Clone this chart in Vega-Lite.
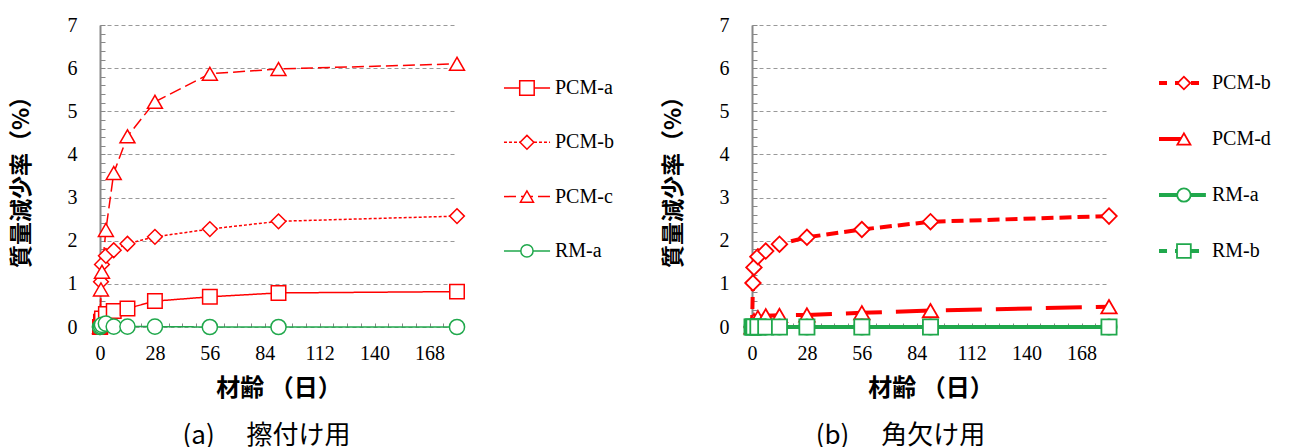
{
  "$schema": "https://vega.github.io/schema/vega-lite/v6.json",
  "padding": {"left": 10, "top": 15, "right": 0, "bottom": 4},
  "bounds": "flush",
  "spacing": 10,
  "config": {"view": {"stroke": null}, "axis": {"labelFont": "Liberation Serif"}},
  "resolve": {"scale": {"stroke": "independent", "shape": "independent", "strokeDash": "independent", "strokeWidth": "independent", "size": "independent"}},
  "hconcat": [
    {
      "width": 357,
      "height": 302,
      "title": {"text": "(a)　 擦付け用", "orient": "bottom", "frame": "group", "anchor": "middle", "offset": 23, "dx": -12, "font": "Noto Sans CJK JP", "fontSize": 26, "fontWeight": "normal", "color": "#000"},
      "data": {"values": [
        {"s": "PCM-a", "d": 0, "v": 0}, {"s": "PCM-a", "d": 0.5, "v": 0.12}, {"s": "PCM-a", "d": 1, "v": 0.2}, {"s": "PCM-a", "d": 3, "v": 0.3}, {"s": "PCM-a", "d": 7, "v": 0.37}, {"s": "PCM-a", "d": 14, "v": 0.43}, {"s": "PCM-a", "d": 28, "v": 0.6}, {"s": "PCM-a", "d": 56, "v": 0.7}, {"s": "PCM-a", "d": 91, "v": 0.79}, {"s": "PCM-a", "d": 182, "v": 0.82},
        {"s": "PCM-b", "d": 0, "v": 0}, {"s": "PCM-b", "d": 0.5, "v": 1.05}, {"s": "PCM-b", "d": 1, "v": 1.45}, {"s": "PCM-b", "d": 3, "v": 1.65}, {"s": "PCM-b", "d": 7, "v": 1.78}, {"s": "PCM-b", "d": 14, "v": 1.93}, {"s": "PCM-b", "d": 28, "v": 2.09}, {"s": "PCM-b", "d": 56, "v": 2.27}, {"s": "PCM-b", "d": 91, "v": 2.45}, {"s": "PCM-b", "d": 182, "v": 2.57},
        {"s": "PCM-c", "d": 0, "v": 0}, {"s": "PCM-c", "d": 0.5, "v": 0.87}, {"s": "PCM-c", "d": 1, "v": 1.28}, {"s": "PCM-c", "d": 3, "v": 2.25}, {"s": "PCM-c", "d": 7, "v": 3.57}, {"s": "PCM-c", "d": 14, "v": 4.42}, {"s": "PCM-c", "d": 28, "v": 5.22}, {"s": "PCM-c", "d": 56, "v": 5.87}, {"s": "PCM-c", "d": 91, "v": 5.98}, {"s": "PCM-c", "d": 182, "v": 6.1},
        {"s": "RM-a", "d": 0, "v": 0}, {"s": "RM-a", "d": 0.5, "v": 0.02}, {"s": "RM-a", "d": 1, "v": 0.05}, {"s": "RM-a", "d": 3, "v": 0.08}, {"s": "RM-a", "d": 7, "v": 0.01}, {"s": "RM-a", "d": 14, "v": 0.01}, {"s": "RM-a", "d": 28, "v": 0.01}, {"s": "RM-a", "d": 56, "v": 0}, {"s": "RM-a", "d": 91, "v": 0}, {"s": "RM-a", "d": 182, "v": 0}
      ]},
      "layer": [
        {
          "mark": {"type": "line", "strokeCap": "butt"},
          "encoding": {
            "x": {"field": "d", "type": "quantitative", "scale": {"domain": [0, 182], "nice": false},
              "axis": {"values": [0, 28, 56, 84, 112, 140, 168], "title": "材齢 （日）", "grid": false, "domain": false, "ticks": false, "labelFlush": false, "labelPadding": 16, "labelFont": "Liberation Serif", "labelFontSize": 20, "labelColor": "#000", "titleFont": "Noto Sans CJK JP", "titleFontSize": 24, "titleFontWeight": "bold", "titleColor": "#000", "titlePadding": 13}},
            "y": {"field": "v", "type": "quantitative", "scale": {"domain": [0, 7], "nice": false},
              "axis": {"values": [0, 1, 2, 3, 4, 5, 6, 7], "title": "質量減少率（%）", "grid": true, "gridDash": [4, 3], "gridColor": "#999", "gridWidth": 1.2, "domain": true, "domainColor": "#888", "domainWidth": 2, "ticks": false, "labelPadding": 23, "labelFont": "Liberation Serif", "labelFontSize": 20, "labelColor": "#000", "titleFont": "Noto Sans CJK JP", "titleFontSize": 23, "titleFontWeight": "bold", "titleColor": "#000", "titlePadding": 34}},
            "stroke": {"field": "s", "type": "nominal", "scale": {"domain": ["PCM-a", "PCM-b", "PCM-c", "RM-a"], "range": ["#ff0000", "#ff0000", "#ff0000", "#20a84c"]}, "legend": null},
            "strokeDash": {"field": "s", "type": "nominal", "scale": {"domain": ["PCM-a", "PCM-b", "PCM-c", "RM-a"], "range": [[1, 0], [3, 2], [12, 5], [1, 0]]}, "legend": null},
            "strokeWidth": {"field": "s", "type": "nominal", "scale": {"domain": ["PCM-a", "PCM-b", "PCM-c", "RM-a"], "range": [1.5, 1.5, 1.5, 2.5]}, "legend": null}
          }
        },
        {
          "mark": {"type": "point", "fill": "#fff", "filled": true, "opacity": 1, "strokeWidth": 1.5},
          "encoding": {
            "x": {"field": "d", "type": "quantitative", "axis": {"orient": "bottom", "values": [0, 7, 14, 21, 28, 35, 42, 49, 56, 63, 70, 77, 84, 91, 98, 105, 112, 119, 126, 133, 140, 147, 154, 161, 168, 175, 182], "labels": false, "grid": false, "domain": false, "ticks": true, "tickSize": -4, "tickColor": "#888", "title": null}},
            "y": {"field": "v", "type": "quantitative", "axis": {"orient": "left", "values": [0, 0.2, 0.4, 0.6, 0.8, 1, 1.2, 1.4, 1.6, 1.8, 2, 2.2, 2.4, 2.6, 2.8, 3, 3.2, 3.4, 3.6, 3.8, 4, 4.2, 4.4, 4.6, 4.8, 5, 5.2, 5.4, 5.6, 5.8, 6, 6.2, 6.4, 6.6, 6.8, 7], "labels": false, "grid": false, "domain": false, "ticks": true, "tickSize": -5, "tickColor": "#888", "title": null}},
            "stroke": {"field": "s", "type": "nominal", "scale": {"domain": ["PCM-a", "PCM-b", "PCM-c", "RM-a"], "range": ["#ff0000", "#ff0000", "#ff0000", "#20a84c"]}, "legend": null},
            "shape": {"field": "s", "type": "nominal", "scale": {"domain": ["PCM-a", "PCM-b", "PCM-c", "RM-a"], "range": ["square", "diamond", "triangle-up", "circle"]}, "legend": null},
            "size": {"field": "s", "type": "nominal", "scale": {"domain": ["PCM-a", "PCM-b", "PCM-c", "RM-a"], "range": [210, 230, 220, 220]}, "legend": null}
          }
        }
      ],
      "resolve": {"axis": {"x": "independent", "y": "independent"}}
    },
    {
      "width": 275,
      "height": 302,
      "data": {"values": [{"s": "PCM-a", "o": 1}, {"s": "PCM-b", "o": 2}, {"s": "PCM-c", "o": 3}, {"s": "RM-a", "o": 4}]},
      "encoding": {"y": {"field": "o", "type": "quantitative", "scale": {"domain": [-0.16, 5.402], "reverse": true, "nice": false, "zero": false}, "axis": null}},
      "layer": [
        {
          "mark": {"type": "rule", "strokeCap": "butt"},
          "encoding": {
            "x": {"datum": 1.345, "type": "quantitative", "scale": {"domain": [0, 10], "nice": false}, "axis": null},
            "x2": {"datum": 3.02},
            "stroke": {"field": "s", "type": "nominal", "scale": {"domain": ["PCM-a", "PCM-b", "PCM-c", "RM-a"], "range": ["#ff0000", "#ff0000", "#ff0000", "#20a84c"]}, "legend": null},
            "strokeDash": {"field": "s", "type": "nominal", "scale": {"domain": ["PCM-a", "PCM-b", "PCM-c", "RM-a"], "range": [[1, 0], [3, 2], [12, 5], [1, 0]]}, "legend": null},
            "strokeWidth": {"field": "s", "type": "nominal", "scale": {"domain": ["PCM-a", "PCM-b", "PCM-c", "RM-a"], "range": [1.5, 1.5, 1.5, 2.5]}, "legend": null}
          }
        },
        {
          "mark": {"type": "point", "fill": "#fff", "filled": true, "opacity": 1, "strokeWidth": 1.5},
          "encoding": {
            "x": {"datum": 2.18, "type": "quantitative"},
            "stroke": {"field": "s", "type": "nominal", "scale": {"domain": ["PCM-a", "PCM-b", "PCM-c", "RM-a"], "range": ["#ff0000", "#ff0000", "#ff0000", "#20a84c"]}, "legend": null},
            "shape": {"field": "s", "type": "nominal", "scale": {"domain": ["PCM-a", "PCM-b", "PCM-c", "RM-a"], "range": ["square", "diamond", "triangle-up", "circle"]}, "legend": null},
            "size": {"field": "s", "type": "nominal", "scale": {"domain": ["PCM-a", "PCM-b", "PCM-c", "RM-a"], "range": [210, 150, 170, 200]}, "legend": null}
          }
        },
        {
          "mark": {"type": "text", "align": "left", "baseline": "middle", "font": "Liberation Serif", "fontSize": 20, "color": "#000"},
          "encoding": {"x": {"datum": 3.2, "type": "quantitative"}, "text": {"field": "s"}}
        }
      ]
    },
    {
      "width": 357,
      "height": 302,
      "title": {"text": "(b)　 角欠け用", "orient": "bottom", "frame": "group", "anchor": "middle", "offset": 23, "dx": -30, "font": "Noto Sans CJK JP", "fontSize": 26, "fontWeight": "normal", "color": "#000"},
      "data": {"values": [
        {"s": "PCM-b", "d": 0, "v": 0}, {"s": "PCM-b", "d": 0.5, "v": 1.02}, {"s": "PCM-b", "d": 1, "v": 1.38}, {"s": "PCM-b", "d": 3, "v": 1.63}, {"s": "PCM-b", "d": 7, "v": 1.76}, {"s": "PCM-b", "d": 14, "v": 1.92}, {"s": "PCM-b", "d": 28, "v": 2.08}, {"s": "PCM-b", "d": 56, "v": 2.26}, {"s": "PCM-b", "d": 91, "v": 2.44}, {"s": "PCM-b", "d": 182, "v": 2.57},
        {"s": "PCM-d", "d": 0, "v": 0}, {"s": "PCM-d", "d": 0.5, "v": 0.1}, {"s": "PCM-d", "d": 1, "v": 0.15}, {"s": "PCM-d", "d": 3, "v": 0.22}, {"s": "PCM-d", "d": 7, "v": 0.26}, {"s": "PCM-d", "d": 14, "v": 0.27}, {"s": "PCM-d", "d": 28, "v": 0.28}, {"s": "PCM-d", "d": 56, "v": 0.33}, {"s": "PCM-d", "d": 91, "v": 0.38}, {"s": "PCM-d", "d": 182, "v": 0.47},
        {"s": "RM-a", "d": 0, "v": 0}, {"s": "RM-a", "d": 0.5, "v": 0}, {"s": "RM-a", "d": 1, "v": 0}, {"s": "RM-a", "d": 3, "v": 0}, {"s": "RM-a", "d": 7, "v": 0}, {"s": "RM-a", "d": 14, "v": 0}, {"s": "RM-a", "d": 28, "v": 0}, {"s": "RM-a", "d": 56, "v": 0}, {"s": "RM-a", "d": 91, "v": 0}, {"s": "RM-a", "d": 182, "v": 0},
        {"s": "RM-b", "d": 0, "v": 0}, {"s": "RM-b", "d": 0.5, "v": 0}, {"s": "RM-b", "d": 1, "v": 0}, {"s": "RM-b", "d": 3, "v": 0}, {"s": "RM-b", "d": 7, "v": 0}, {"s": "RM-b", "d": 14, "v": 0}, {"s": "RM-b", "d": 28, "v": 0}, {"s": "RM-b", "d": 56, "v": 0}, {"s": "RM-b", "d": 91, "v": 0}, {"s": "RM-b", "d": 182, "v": 0}
      ]},
      "layer": [
        {
          "mark": {"type": "line", "strokeCap": "butt"},
          "encoding": {
            "x": {"field": "d", "type": "quantitative", "scale": {"domain": [0, 182], "nice": false},
              "axis": {"values": [0, 28, 56, 84, 112, 140, 168], "title": "材齢 （日）", "grid": false, "domain": false, "ticks": false, "labelFlush": false, "labelPadding": 16, "labelFont": "Liberation Serif", "labelFontSize": 20, "labelColor": "#000", "titleFont": "Noto Sans CJK JP", "titleFontSize": 24, "titleFontWeight": "bold", "titleColor": "#000", "titlePadding": 13}},
            "y": {"field": "v", "type": "quantitative", "scale": {"domain": [0, 7], "nice": false},
              "axis": {"values": [0, 1, 2, 3, 4, 5, 6, 7], "title": "質量減少率（%）", "grid": true, "gridDash": [4, 3], "gridColor": "#999", "gridWidth": 1.2, "domain": true, "domainColor": "#888", "domainWidth": 2, "ticks": false, "labelPadding": 23, "labelFont": "Liberation Serif", "labelFontSize": 20, "labelColor": "#000", "titleFont": "Noto Sans CJK JP", "titleFontSize": 23, "titleFontWeight": "bold", "titleColor": "#000", "titlePadding": 34}},
            "stroke": {"field": "s", "type": "nominal", "scale": {"domain": ["PCM-b", "PCM-d", "RM-a", "RM-b"], "range": ["#ff0000", "#ff0000", "#20a84c", "#20a84c"]}, "legend": null},
            "strokeDash": {"field": "s", "type": "nominal", "scale": {"domain": ["PCM-b", "PCM-d", "RM-a", "RM-b"], "range": [[12, 6], [36, 14], [1, 0], [8, 5]]}, "legend": null},
            "strokeWidth": {"field": "s", "type": "nominal", "scale": {"domain": ["PCM-b", "PCM-d", "RM-a", "RM-b"], "range": [4, 4, 3, 4]}, "legend": null}
          }
        },
        {
          "mark": {"type": "point", "fill": "#fff", "filled": true, "opacity": 1, "strokeWidth": 1.8},
          "encoding": {
            "x": {"field": "d", "type": "quantitative", "axis": {"orient": "bottom", "values": [0, 7, 14, 21, 28, 35, 42, 49, 56, 63, 70, 77, 84, 91, 98, 105, 112, 119, 126, 133, 140, 147, 154, 161, 168, 175, 182], "labels": false, "grid": false, "domain": false, "ticks": true, "tickSize": -4, "tickColor": "#888", "title": null}},
            "y": {"field": "v", "type": "quantitative", "axis": {"orient": "left", "values": [0, 0.2, 0.4, 0.6, 0.8, 1, 1.2, 1.4, 1.6, 1.8, 2, 2.2, 2.4, 2.6, 2.8, 3, 3.2, 3.4, 3.6, 3.8, 4, 4.2, 4.4, 4.6, 4.8, 5, 5.2, 5.4, 5.6, 5.8, 6, 6.2, 6.4, 6.6, 6.8, 7], "labels": false, "grid": false, "domain": false, "ticks": true, "tickSize": -5, "tickColor": "#888", "title": null}},
            "stroke": {"field": "s", "type": "nominal", "scale": {"domain": ["PCM-b", "PCM-d", "RM-a", "RM-b"], "range": ["#ff0000", "#ff0000", "#20a84c", "#20a84c"]}, "legend": null},
            "shape": {"field": "s", "type": "nominal", "scale": {"domain": ["PCM-b", "PCM-d", "RM-a", "RM-b"], "range": ["diamond", "triangle-up", "circle", "square"]}, "legend": null},
            "size": {"field": "s", "type": "nominal", "scale": {"domain": ["PCM-b", "PCM-d", "RM-a", "RM-b"], "range": [240, 230, 220, 225]}, "legend": null}
          }
        }
      ],
      "resolve": {"axis": {"x": "independent", "y": "independent"}}
    },
    {
      "width": 160,
      "height": 302,
      "data": {"values": [{"s": "PCM-b", "o": 1}, {"s": "PCM-d", "o": 2}, {"s": "RM-a", "o": 3}, {"s": "RM-b", "o": 4}]},
      "encoding": {"y": {"field": "o", "type": "quantitative", "scale": {"domain": [-0.036, 5.357], "reverse": true, "nice": false, "zero": false}, "axis": null}},
      "layer": [
        {
          "mark": {"type": "rule", "strokeCap": "butt"},
          "encoding": {
            "x": {"datum": 1.455, "type": "quantitative", "scale": {"domain": [0, 5.818], "nice": false}, "axis": null},
            "x2": {"datum": 3.16},
            "stroke": {"field": "s", "type": "nominal", "scale": {"domain": ["PCM-b", "PCM-d", "RM-a", "RM-b"], "range": ["#ff0000", "#ff0000", "#20a84c", "#20a84c"]}, "legend": null},
            "strokeDash": {"field": "s", "type": "nominal", "scale": {"domain": ["PCM-b", "PCM-d", "RM-a", "RM-b"], "range": [[8, 8], [28, 20], [1, 0], [8, 8]]}, "legend": null},
            "strokeWidth": {"field": "s", "type": "nominal", "scale": {"domain": ["PCM-b", "PCM-d", "RM-a", "RM-b"], "range": [4, 4, 3, 4]}, "legend": null}
          }
        },
        {
          "mark": {"type": "point", "fill": "#fff", "filled": true, "opacity": 1, "strokeWidth": 1.8},
          "encoding": {
            "x": {"datum": 2.36, "type": "quantitative"},
            "stroke": {"field": "s", "type": "nominal", "scale": {"domain": ["PCM-b", "PCM-d", "RM-a", "RM-b"], "range": ["#ff0000", "#ff0000", "#20a84c", "#20a84c"]}, "legend": null},
            "shape": {"field": "s", "type": "nominal", "scale": {"domain": ["PCM-b", "PCM-d", "RM-a", "RM-b"], "range": ["diamond", "triangle-up", "circle", "square"]}, "legend": null},
            "size": {"field": "s", "type": "nominal", "scale": {"domain": ["PCM-b", "PCM-d", "RM-a", "RM-b"], "range": [160, 190, 200, 210]}, "legend": null}
          }
        },
        {
          "mark": {"type": "text", "align": "left", "baseline": "middle", "font": "Liberation Serif", "fontSize": 20, "color": "#000"},
          "encoding": {"x": {"datum": 3.38, "type": "quantitative"}, "text": {"field": "s"}}
        }
      ]
    }
  ]
}
